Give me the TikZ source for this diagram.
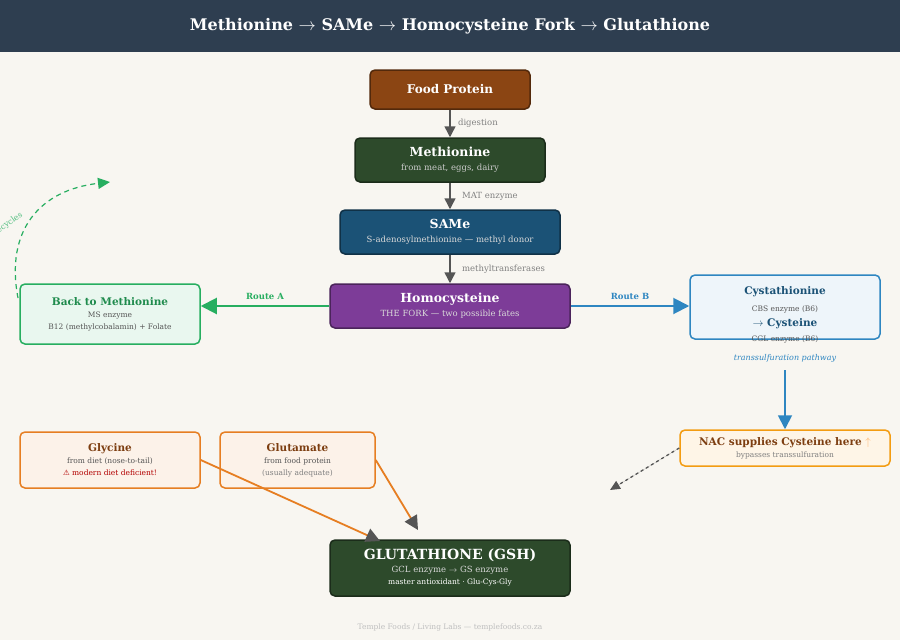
\documentclass[tikz,border=0pt]{standalone}
\usepackage{fontspec}
\setmainfont{DejaVu Serif}
\newfontfamily\symf{DejaVu Sans}
\usetikzlibrary{arrows.meta}
\definecolor{hdr}{HTML}{2E3E50}
\definecolor{bg}{HTML}{F8F6F1}
\definecolor{food}{HTML}{8B4513}
\definecolor{met}{HTML}{2D4A2B}
\definecolor{same}{HTML}{1B5276}
\definecolor{hcy}{HTML}{7D3C98}
\definecolor{grn}{HTML}{27AE60}
\definecolor{blu}{HTML}{2E86C1}
\definecolor{org}{HTML}{E67E22}
\definecolor{nac}{HTML}{F39C12}
\definecolor{gtx}{HTML}{555555}
\tikzset{
 box/.style={draw, rounded corners=5pt, line width=1.5pt, minimum width=#1, align=center, inner sep=2pt},
 lab/.style={font=\fontsize{8.5}{10}\selectfont, text=gray},
 tip/.style={-{Triangle[length=11pt,width=11pt]}},
}
\begin{document}
\begin{tikzpicture}[x=1pt,y=-1pt]
\useasboundingbox (0,0) rectangle (900,640);
\fill[bg] (0,0) rectangle (900,640);
\fill[hdr] (0,0) rectangle (900,52);
\node[text=white,font=\bfseries\fontsize{16}{18}\selectfont] (title) at (450,26) {Methionine $\rightarrow$ SAMe $\rightarrow$ Homocysteine Fork $\rightarrow$ Glutathione};

\node[box=160pt, minimum height=39pt, fill=food, draw=food!60!black, text=white, font=\bfseries\fontsize{12}{14}\selectfont] (fp) at (450,89.5) {Food Protein};
\node[box=190pt, minimum height=44pt, fill=met, draw=met!60!black, text=white] (me) at (450,160) {{\bfseries\fontsize{12.5}{14}\selectfont Methionine}\\[2pt]{\fontsize{8.5}{10}\selectfont\color{white!80!black} from meat, eggs, dairy}};
\node[box=220pt, minimum height=44pt, fill=same, draw=same!60!black, text=white] (sa) at (450,232) {{\bfseries\fontsize{12.5}{14}\selectfont SAMe}\\[2pt]{\fontsize{8.5}{10}\selectfont\color{white!85!black} S-adenosylmethionine — methyl donor}};
\node[box=240pt, minimum height=44pt, fill=hcy, draw=hcy!60!black, text=white] (hc) at (450,306) {{\bfseries\fontsize{12.5}{14}\selectfont Homocysteine}\\[2pt]{\fontsize{8.5}{10}\selectfont\color{white!85!black} THE FORK — two possible fates}};
\node[box=180pt, minimum height=60pt, fill=grn!10, draw=grn] (bm) at (110,314) {{\bfseries\fontsize{10.5}{13}\selectfont\color{grn!80!black} Back to Methionine}\\{\fontsize{7.5}{10}\selectfont\color{gtx} MS enzyme}\\{\fontsize{7.5}{10}\selectfont\color{gtx} B12 (methylcobalamin) + Folate}};
\node[box=190pt, minimum height=64pt, fill=blu!8, draw=blu] (cy) at (785,307) {};
\node[font=\bfseries\fontsize{10.5}{12}\selectfont, text=same] (cyt) at (785,292) {Cystathionine};
\node[font=\fontsize{7.5}{9}\selectfont, text=gtx] (cbs) at (785,309) {CBS enzyme (B6)};
\node[font=\bfseries\fontsize{10.5}{12}\selectfont, text=same] (cys) at (785,324) {$\rightarrow$ Cysteine};
\node[font=\fontsize{7.5}{9}\selectfont, text=gtx] (cgl) at (785,339) {CGL enzyme (B6)};
\node[font=\itshape\fontsize{8}{9}\selectfont, text=blu] (ts) at (785,358) {transsulfuration pathway};
\coordinate (tsb) at (785,370);
\node[box=210pt, minimum height=36pt, fill=nac!10, draw=nac] (nc) at (785,448) {{\bfseries\fontsize{10.5}{12}\selectfont\color{food!90!black} NAC supplies Cysteine here {\color{orange!60}$\uparrow$}}\\{\fontsize{7.5}{9}\selectfont\color{gray} bypasses transsulfuration}};
\node[box=180pt, minimum height=56pt, fill=org!10, draw=org] (gl) at (110,460) {{\bfseries\fontsize{10.5}{13}\selectfont\color{food!90!black} Glycine}\\{\fontsize{7.5}{10}\selectfont\color{gtx} from diet (nose-to-tail)}\\{\fontsize{7.5}{10}\selectfont\color{red!70!black} {\symf ⚠} modern diet deficient!}};
\node[box=155pt, minimum height=56pt, fill=org!10, draw=org] (gu) at (297.5,460) {{\bfseries\fontsize{10.5}{13}\selectfont\color{food!90!black} Glutamate}\\{\fontsize{7.5}{10}\selectfont\color{gtx} from food protein}\\{\fontsize{7.5}{10}\selectfont\color{gray} (usually adequate)}};
\node[box=240pt, minimum height=56pt, fill=met, draw=met!60!black, text=white] (gs) at (450,568) {{\bfseries\fontsize{14}{16}\selectfont GLUTATHIONE (GSH)}\\[1pt]{\fontsize{8.5}{10}\selectfont\color{white!85!black} GCL enzyme $\rightarrow$ GS enzyme}\\{\fontsize{7.5}{10}\selectfont master antioxidant · Glu-Cys-Gly}};
\node[font=\fontsize{7.5}{9}\selectfont, text=gray!50] (ft) at (450,627) {Temple Foods / Living Labs — templefoods.co.za};

\draw[tip, line width=1.5pt, draw=gtx, fill=gtx] (fp) -- (me) node[midway,right=4pt,lab]{digestion};
\draw[tip, line width=1.5pt, draw=gtx, fill=gtx] (me) -- (sa) node[midway,right=8pt,lab]{MAT enzyme};
\draw[tip, line width=1.5pt, draw=gtx, fill=gtx] (sa) -- (hc) node[midway,right=8pt,lab]{methyltransferases};
\draw[-{Triangle[length=16pt,width=16pt]}, line width=2pt, grn] (hc.west) -- (bm.east |- hc.west) node[midway,above=2pt,font=\bfseries\fontsize{8.5}{10}\selectfont]{Route A};
\draw[-{Triangle[length=16pt,width=16pt]}, line width=2pt, blu] (hc.east) -- (cy.west |- hc.east) node[midway,above=2pt,font=\bfseries\fontsize{8.5}{10}\selectfont]{Route B};
\draw[-{Triangle[length=14pt,width=14pt]}, line width=1.8pt, blu] (tsb) -- (nc);
\coordinate (arcS) at (18,298);
\coordinate (arcE) at (110,182);
\draw[-{Triangle[length=12pt,width=11pt]}, dashed, dash pattern=on 5pt off 4pt, line width=1.2pt, grn] (arcS) .. controls (5,230) and (40,190) .. (arcE);
\node[font=\fontsize{8}{9}\selectfont, text=grn!80, rotate=35] (rc) at (8,224) {recycles};
\coordinate (nce) at (610,490);
\draw[-{Triangle[length=10pt,width=9pt]}, dashed, line width=1.3pt, gtx, fill=gtx] (nc.west) -- (nce);
\coordinate (g1) at (380,541);
\coordinate (g2) at (418,530);
\draw[line width=1.8pt, org, -{Triangle[length=14pt,width=14pt,fill=gtx,color=gtx]}] (gl.east) -- (g1);
\draw[line width=1.8pt, org, -{Triangle[length=14pt,width=14pt,fill=gtx,color=gtx]}] (gu.east) -- (g2);
\end{tikzpicture}
\end{document}
